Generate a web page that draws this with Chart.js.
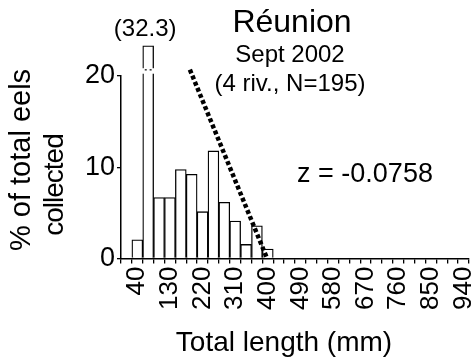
<!DOCTYPE html>
<html>
<head>
<meta charset="utf-8">
<script src="https://cdn.jsdelivr.net/npm/chart.js@4/dist/chart.umd.min.js"></script>
<style>
  html, body { margin: 0; padding: 0; background: #ffffff; }
  #c { display: block; }
</style>
</head>
<body>
<canvas id="c" width="474" height="364"></canvas>
<script>
// ---- data ----
const lengthBins = ['10','40','70','100','130','160','190','220','250','280','310','340','370','400','430','460',
                    '490','520','550','580','610','640','670','700','730','760','790','820','850','880','910','940'];
const pctEels = [0, 2.05, 32.3, 6.67, 6.67, 9.74, 9.23, 5.13, 11.79, 6.15, 4.10, 1.54, 3.59, 1.03,
                 0, 0, 0, 0, 0, 0, 0, 0, 0, 0, 0, 0, 0, 0, 0, 0, 0, 0];
const shownTickLabels = ['40','130','220','310','400','490','580','670','760','850','940'];
const yTicks = [0, 10, 20];
const fitLineX = [185, 396];    // mm
const fitLineY = [20.7, 0.2];   // %
const brokenBarTop = 23.3;      // drawn height of the broken bar
const titleText = 'Réunion';
const subtitleLines = ['Sept 2002', '(4 riv., N=195)'];
const zText = 'z = -0.0758';
const yTitleLines = ['% of total eels', 'collected'];
const xTitleText = 'Total length (mm)';

const FONT = '"Liberation Sans", Arial, Helvetica, sans-serif';

const shownData = pctEels.map(v => Math.min(v, brokenBarTop));
const bigIndex = pctEels.indexOf(Math.max(...pctEels));

function rotatedText(ctx, text, cx, cy, font, spacing) {
  ctx.save();
  ctx.translate(cx, cy);
  ctx.rotate(-Math.PI / 2);
  ctx.font = font;
  if (spacing && 'letterSpacing' in ctx) ctx.letterSpacing = spacing;
  ctx.textAlign = 'center';
  ctx.textBaseline = 'middle';
  ctx.fillText(text, 0, 0);
  ctx.restore();
}

const annot = {
  id: 'annot',
  afterDatasetsDraw(chart) {
    const ctx = chart.ctx;
    const ys = chart.scales.y;
    ctx.save();
    // break marks in the tall bar
    const bar = chart.getDatasetMeta(0).data[bigIndex];
    const bw = bar.width;
    const yA = ys.getPixelForValue(20.85), yB = ys.getPixelForValue(20.25);
    ctx.fillStyle = '#ffffff';
    ctx.fillRect(bar.x - bw / 2 - 2, yA, bw + 4, yB - yA);
    ctx.fillStyle = '#000000';
    ctx.fillRect(bar.x - bw / 2 + 2, yA + 1, 2, 1.2);
    ctx.fillRect(bar.x + bw / 2 - 4, yA + 1, 2, 1.2);
    // value of the broken bar
    ctx.textAlign = 'center';
    ctx.textBaseline = 'alphabetic';
    ctx.font = '24px ' + FONT;
    ctx.fillText('(' + pctEels[bigIndex] + ')', bar.x - 3, 36);
    // titles
    ctx.font = '32px ' + FONT;
    ctx.fillText(titleText, 292, 32);
    ctx.font = '24px ' + FONT;
    ctx.fillText(subtitleLines[0], 290, 62);
    ctx.fillText(subtitleLines[1], 290, 91);
    ctx.font = '27px ' + FONT;
    ctx.fillText(zText, 365, 182);
    // x axis title
    ctx.font = '28px ' + FONT;
    ctx.textBaseline = 'middle';
    ctx.fillText(xTitleText, 284, 343);
    // y axis title (two lines)
    rotatedText(ctx, yTitleLines[0], 22, 160, '29px ' + FONT);
    rotatedText(ctx, yTitleLines[1], 55, 185, '28px ' + FONT, '-1px');
    ctx.restore();
  }
};

new Chart(document.getElementById('c'), {
  type: 'bar',
  data: {
    labels: lengthBins,
    datasets: [
      {
        type: 'bar',
        data: shownData,
        backgroundColor: '#ffffff',
        borderColor: '#000000',
        borderWidth: 1.3,
        borderSkipped: 'bottom',
        barPercentage: 1,
        categoryPercentage: 1,
        grouped: false,
        clip: false,
        xAxisID: 'x',
        yAxisID: 'y',
        order: 2
      },
      {
        type: 'line',
        data: fitLineX.map((x, i) => ({ x: x, y: fitLineY[i] })),
        borderColor: '#000000',
        borderWidth: 4.5,
        borderDash: [4, 2.6],
        borderCapStyle: 'butt',
        pointRadius: 0,
        fill: false,
        clip: false,
        xAxisID: 'x2',
        yAxisID: 'y',
        order: 1
      }
    ]
  },
  options: {
    responsive: false,
    animation: false,
    devicePixelRatio: 1,
    layout: { padding: { top: 76, right: 5, left: 0, bottom: 0 } },
    plugins: { legend: { display: false }, tooltip: { enabled: false } },
    scales: {
      x: {
        type: 'category',
        offset: true,
        weight: 1,
        grid: { display: true, offset: true, drawOnChartArea: false, drawTicks: true, tickLength: 5, color: '#000', lineWidth: 1.3 },
        border: { display: true, color: '#000', width: 1.5 },
        ticks: {
          autoSkip: false, maxRotation: 90, minRotation: 90, padding: 3,
          color: '#000', font: { family: FONT, size: 26 },
          callback: function (v) { const l = this.getLabelForValue(v); return shownTickLabels.includes(l) ? l : ''; }
        },
        title: { display: false },
        afterFit(s) { s.height = 105.5; s.paddingLeft = 0; s.paddingRight = 0; }
      },
      x2: {
        type: 'linear', position: 'bottom', display: true, weight: 0,
        offset: false, bounds: 'data', beginAtZero: false, grace: 0,
        min: -5, max: 955,
        grid: { display: false, drawTicks: false, offset: false },
        border: { display: false },
        ticks: { display: false },
        title: { display: false },
        afterFit(s) { s.height = 0; s.paddingLeft = 0; s.paddingRight = 0; }
      },
      y: {
        min: 0, max: 20,
        afterBuildTicks(s) { s.ticks = yTicks.map(v => ({ value: v })); },
        grid: { display: true, drawOnChartArea: false, drawTicks: true, tickLength: 4, color: '#000', lineWidth: 1.3 },
        border: { display: true, color: '#000', width: 1.5 },
        ticks: { color: '#000', padding: 2, font: { family: FONT, size: 27 } },
        title: { display: false },
        afterFit(s) { s.width = 121; s.paddingTop = 0; s.paddingBottom = 0; }
      }
    }
  },
  plugins: [annot]
});
</script>
</body>
</html>
